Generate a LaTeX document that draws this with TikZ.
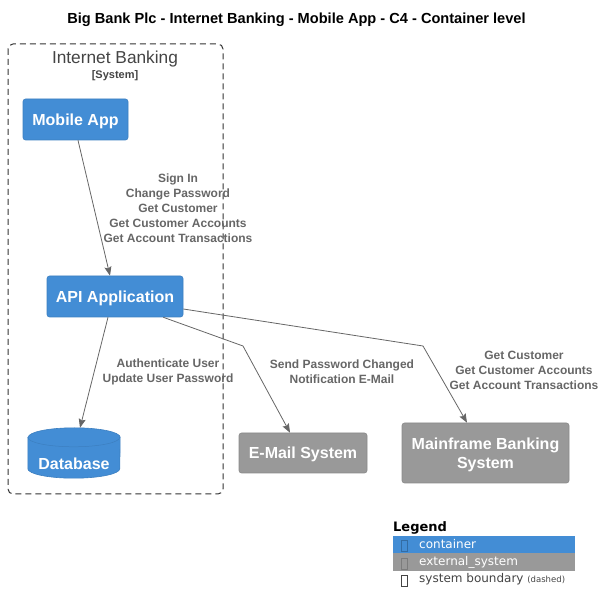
\documentclass[tikz,border=0pt]{standalone}
\usepackage{fontspec}
\setmainfont{Liberation Sans}
\newfontfamily\legendfont{DejaVu Sans}
\usepackage{xcolor}
\usepackage{tikz}
\usetikzlibrary{arrows.meta, positioning, calc}

\definecolor{cblue}{HTML}{438DD5}
\definecolor{cblueline}{HTML}{3C7FC0}
\definecolor{cgray}{HTML}{999999}
\definecolor{cgrayline}{HTML}{8A8A8A}
\definecolor{edgegray}{HTML}{666666}
\definecolor{bndgray}{HTML}{444444}

\tikzset{
  container/.style={rectangle, rounded corners=2.5pt, fill=cblue, draw=cblueline, line width=0.6pt,
    text=white, font=\bfseries\fontsize{16}{19}\selectfont, align=center, inner sep=0pt, text depth=0pt},
  extsys/.style={container, fill=cgray, draw=cgrayline},
  rel/.style={draw=edgegray, line width=0.8pt, -{Stealth[length=9pt,width=7pt,inset=1.5pt]}},
  rellabel/.style={text=edgegray, font=\bfseries\fontsize{12}{15}\selectfont, align=center, inner sep=0pt},
  legendtxt/.style={anchor=west, inner sep=0pt, font=\legendfont\fontsize{12}{14}\selectfont},
}

\begin{document}
\begin{tikzpicture}[x=1pt, y=1pt]
  \useasboundingbox (0,0) rectangle (605,614);
  \node[font=\bfseries\fontsize{14.6}{17}\selectfont] (title) at (296.5,594)
    {Big Bank Plc - Internet Banking - Mobile App - C4 - Container level};

  % system boundary
  \draw[black!80, dash pattern=on 6pt off 4pt, rounded corners=5pt, line width=1pt] (8,570) rectangle (223,120);
  \node[text=bndgray, font=\fontsize{17.3}{20}\selectfont] (bndname) at (115,554.5) {Internet Banking};
  \node[text=bndgray, font=\bfseries\fontsize{11}{13}\selectfont] (bndtype) at (115,538.5) {[System]};

  % containers
  \node[container, minimum width=105pt, minimum height=41pt] (mobile) at (75.5,494.5) {Mobile App};
  \node[container, minimum width=136pt, minimum height=41pt] (api) at (115,317.5) {API Application};
  \node[minimum width=92pt, minimum height=50pt, inner sep=0pt] (db) at (74,161) {};
  \filldraw[fill=cblue, draw=cblueline, line width=0.6pt]
    ([yshift=-9.5pt]db.north west) -- ([yshift=9.5pt]db.south west)
    arc[start angle=180, end angle=360, x radius=46pt, y radius=9.5pt]
    -- ([yshift=-9.5pt]db.north east)
    arc[start angle=0, end angle=180, x radius=46pt, y radius=9.5pt] -- cycle;
  \draw[cblueline, line width=0.5pt] ([yshift=-9.5pt]db.north west)
    arc[start angle=180, end angle=360, x radius=46pt, y radius=9.5pt];
  \node[text=white, font=\bfseries\fontsize{16}{19}\selectfont, text depth=0pt] (dblabel) at (74,150) {Database};

  % external systems
  \node[extsys, minimum width=128pt, minimum height=40pt] (email) at (303,161) {E-Mail System};
  \node[extsys, minimum width=167pt, minimum height=60pt] (mainframe) at (485.5,161) {Mainframe Banking\\System};

  % relations
  \draw[rel] ([xshift=2.5pt]mobile.south) -- ([xshift=-5pt]api.north);
  \node[rellabel] (lblmobile) at (178,405.5)
    {Sign In\\Change Password\\Get Customer\\Get Customer Accounts\\Get Account Transactions};
  \draw[rel] ([xshift=-7pt]api.south) -- ([xshift=6pt]db.north);
  \node[rellabel] (lbldb) at (168,242.5) {Authenticate User\\Update User Password};
  \coordinate (bendmail) at (243,268);
  \draw[rel] ([xshift=-20pt]api.south east) -- (bendmail) -- ([xshift=-13pt]email.north);
  \node[rellabel] (lblmail) at (342,242.5) {Send Password Changed\\Notification E-Mail};
  \coordinate (bendmf) at (423,268);
  \draw[rel] ([yshift=-12.5pt]api.east) -- (bendmf) -- ([xshift=-18.5pt]mainframe.north);
  \node[rellabel] (lblmf) at (524,243.5) {Get Customer\\Get Customer Accounts\\Get Account Transactions};

  % legend
  \node[legendtxt, font=\legendfont\bfseries\fontsize{13}{15}\selectfont] (lgtitle) at (393,86) {Legend};
  \fill[cblue] (393,78) rectangle (575,61);
  \fill[cgray] (393,61) rectangle (575,43);
  \draw[cblueline!85!black, line width=0.6pt] (401.5,74) rectangle (407,63);
  \draw[cgrayline!90!black, line width=0.6pt] (401.5,56) rectangle (407,45);
  \draw[bndgray, line width=0.6pt] (401.5,39) rectangle (407,28);
  \node[legendtxt, text=white] (lgcontainer) at (419,69.5) {container};
  \node[legendtxt, text=white] (lgext) at (419,52) {external\_system};
  \node[legendtxt, text=bndgray] (lgbnd) at (419,34.5)
    {system boundary {\fontsize{8.5}{10}\selectfont (dashed)}};
\end{tikzpicture}
\end{document}
